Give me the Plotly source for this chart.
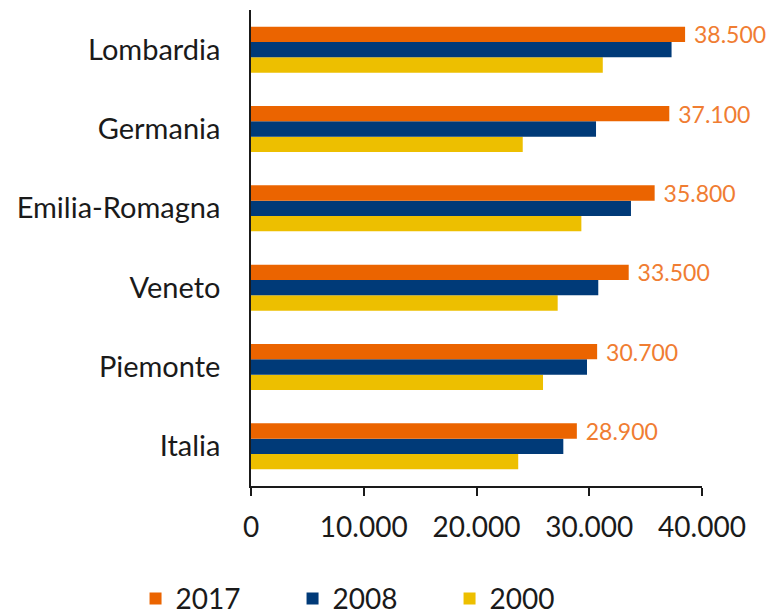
import plotly.graph_objects as go

categories = ["Italia", "Piemonte", "Veneto", "Emilia-Romagna", "Germania", "Lombardia"]
v2017 = [28900, 30700, 33500, 35800, 37100, 38500]
v2008 = [27700, 29800, 30800, 33700, 30600, 37300]
v2000 = [23700, 25900, 27200, 29300, 24100, 31200]
tickvals = [0, 10000, 20000, 30000, 40000]

C17 = "#EB6400"
C08 = "#003A78"
C00 = "#EDBF00"
LBL = "#F07D32"
FONT = "Lato, 'Open Sans', sans-serif"

fig = go.Figure()
fig.add_trace(go.Bar(y=categories, x=v2000, name="2000", orientation="h",
                     marker=dict(color=C00, line=dict(width=0))))
fig.add_trace(go.Bar(y=categories, x=v2008, name="2008", orientation="h",
                     marker=dict(color=C08, line=dict(width=0))))
fig.add_trace(go.Bar(y=categories, x=v2017, name="2017", orientation="h",
                     marker=dict(color=C17, line=dict(width=0)),
                     texttemplate=" %{x:,.0f}", textposition="outside",
                     constraintext="none", cliponaxis=False,
                     textfont=dict(color=LBL, size=23, family=FONT)))

fig.update_layout(
    width=770, height=606,
    margin=dict(l=243, r=76, t=2, b=128, autoexpand=False),
    paper_bgcolor="white", plot_bgcolor="white",
    barmode="group", bargap=0.42, bargroupgap=0,
    separators=",.",
    font=dict(family=FONT, color="#1a1a1a", size=28),
    showlegend=True,
    legend=dict(orientation="h", traceorder="reversed",
                x=-0.256, xanchor="left", y=-0.237, yanchor="middle",
                font=dict(size=28), itemwidth=30, entrywidth=112),
    xaxis=dict(range=[0, 40000], tickvals=tickvals, tickformat=",.0f",
               automargin=False,
               showgrid=False, zeroline=False, showline=True,
               linecolor="#1a1a1a", linewidth=1.5,
               ticks="outside", ticklen=8, tickcolor="#1a1a1a", tickwidth=1.5,
               ticklabelstandoff=8, tickfont=dict(size=28)),
    yaxis=dict(automargin=False, showgrid=False, zeroline=False, showline=True,
               linecolor="#1a1a1a", linewidth=1.5, ticks="",
               ticklabelstandoff=23, tickfont=dict(size=29)),
)

fig.write_html("out.html")
